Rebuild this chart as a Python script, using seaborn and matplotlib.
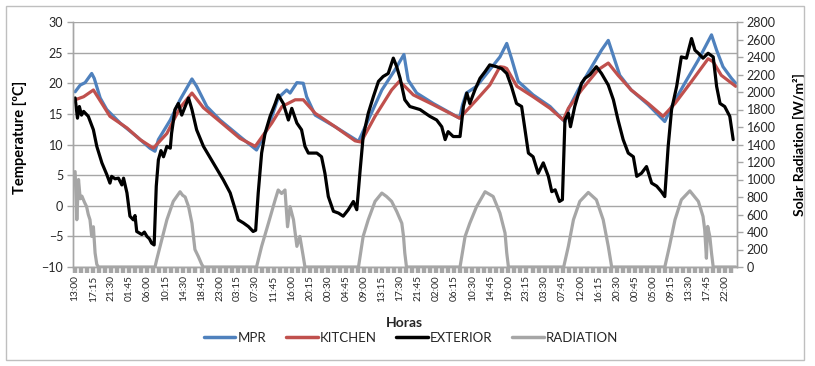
import numpy as np
import pandas as pd
import matplotlib
matplotlib.use('Agg')
import matplotlib.pyplot as plt
import seaborn as sns
from matplotlib.lines import Line2D
from matplotlib.patches import Rectangle
from matplotlib.ticker import MultipleLocator

# x tick labels (one every 4h15m, starting 13:00)
hour_labels = ['13:00', '17:15', '21:30', '01:45', '06:00', '10:15', '14:30', '18:45',
               '23:00', '03:15', '07:30', '11:45', '16:00', '20:15', '00:30', '04:45',
               '09:00', '13:15', '17:30', '21:45', '02:00', '06:15', '10:30', '14:45',
               '19:00', '23:15', '03:30', '07:45', '12:00', '16:15', '20:30', '00:45',
               '05:00', '09:15', '13:30', '17:45', '22:00']

# hours since the first sample (13:00) and values
mpr_h = [0, 1.2, 2.35, 3.9, 4.5, 5.9, 7.45, 10.6, 14.5, 17.6, 18.8, 19.6, 22.4, 24.7, 27.5,
         28.6, 31.0, 34.1, 38.8, 42.7, 45.5, 47.8, 49.8, 50.6, 52.2, 53.7, 54.5, 56.5, 61.2,
         66.7, 69.0, 72.2, 75.3, 77.4, 78.4, 80.4, 84.3, 90.5, 91.2, 92.1, 94.5, 97.6, 100.0,
         101.6, 102.7, 104.3, 107.8, 111.8, 115.3, 116.2, 118.4, 121.6, 123.9, 125.5, 126.5,
         128.2, 130.9, 134.9, 138.8, 140.4, 143.5, 146.7, 149.8, 151.0, 152.5, 154.5, 155.5]
mpr_temp = [18.6, 19.7, 20.1, 21.6, 20.8, 17.6, 15.7, 13.5, 11.3, 9.4, 8.9, 10.8, 14.0, 17.3, 20.7,
            19.5, 16.2, 14.0, 11.3, 9.1, 12.9, 17.6, 18.9, 18.4, 20.1, 20.0, 17.8, 14.8, 12.9,
            10.5, 14.0, 18.9, 22.2, 24.7, 20.5, 18.4, 16.7, 14.3, 16.5, 18.4, 19.5, 22.2, 24.3,
            26.5, 24.1, 20.3, 18.1, 16.2, 13.7, 15.9, 18.9, 22.7, 25.4, 27.0, 24.9,
            21.3, 18.9, 16.5, 13.75, 16.2, 20.0, 23.8, 27.9, 25.4, 22.7, 20.8, 20.0]

kitchen_h = [0, 2.0, 4.3, 6.3, 8.2, 12.2, 15.3, 18.4, 21.6, 24.7, 27.5, 30.2, 34.1, 38.8, 42.4,
             46.3, 48.7, 51.8, 53.7, 56.5, 61.2, 65.9, 67.3, 70.6, 74.5, 76.3, 77.6, 79.6, 84.3,
             90.5, 94.5, 97.6, 100.0, 101.0, 101.6, 104.0, 107.8, 111.8, 114.9, 116.1, 119.2,
             123.1, 125.5, 127.8, 130.9, 134.9, 138.4, 141.2, 145.1, 149.0, 150.2, 152.1, 155.5]
kitchen_temp = [17.3, 17.8, 18.9, 16.7, 14.6, 12.7, 10.8, 9.4, 11.8, 16.0, 18.4, 16.0, 13.75, 11.0, 9.7,
                13.5, 16.2, 17.3, 17.3, 15.1, 12.9, 10.6, 10.4, 14.6, 18.9, 20.3, 19.5, 18.1, 16.5,
                14.3, 17.3, 19.7, 22.7, 22.6, 22.4, 19.5, 17.8, 15.9, 14.0, 15.9, 18.9,
                22.2, 23.3, 21.3, 18.9, 16.7, 14.6, 16.7, 20.3, 24.0, 23.5, 21.3, 19.5]

exterior_h = [0, 0.55, 1.0, 1.5, 2.0, 3.1, 4.3, 5.1, 6.3, 7.45, 8.2, 8.6, 9.4, 10.2, 11.0, 11.4,
              12.2, 12.9, 13.3, 13.7, 14.1, 14.5, 15.7, 16.3, 16.9, 17.5, 18.0, 18.6, 19.1, 19.6,
              20.2, 20.8, 21.6, 22.4, 22.7, 23.5, 24.3, 25.1, 25.9, 26.7, 27.5, 28.6, 30.2, 32.5,
              34.9, 36.5, 37.6, 38.4, 39.6, 40.8, 41.9, 42.5, 43.1, 43.9, 44.7, 45.9, 47.1, 47.8,
              49.0, 50.2, 51.0, 52.2, 53.3, 54.1, 54.9, 56.9, 58.0, 58.8, 59.6, 60.8, 62.0, 63.1,
              64.3, 65.5, 66.3, 67.1, 67.8, 69.0, 70.2, 71.4, 72.5, 73.7, 74.9, 75.7, 76.5, 77.6,
              78.8, 81.2, 83.5, 85.1, 86.3, 87.1, 87.8, 89.0, 90.6, 91.4, 92.2, 92.9, 94.1, 95.3,
              96.5, 97.6, 99.2, 100.4, 101.6, 102.7, 103.9, 105.1, 105.9, 106.7, 107.8, 109.0,
              110.2, 111.4, 112.2, 113.0, 114.0, 114.7, 115.3, 116.1, 116.6, 117.6, 119.2, 120.0,
              121.2, 122.7, 123.9, 125.5, 126.7, 127.8, 129.0, 130.2, 131.4, 132.2, 133.3, 134.5,
              135.7, 136.9, 138.0, 138.8, 139.6, 140.4, 141.6, 142.7, 143.9, 145.1, 145.9, 146.7,
              147.8, 149.0, 150.2, 151.0, 151.8, 152.9, 154.1, 154.9]
exterior_temp = [17.6, 14.3, 16.2, 14.8, 15.4, 14.6, 12.4, 9.7, 7.0, 5.1, 3.7, 4.8, 4.4, 4.5, 3.4, 4.5,
                 2.1, -1.7, -2.0, -2.3, -1.6, -4.2, -4.7, -4.3, -5.0, -5.4, -6.1, -6.4, 3.2, 7.5,
                 9.0, 8.0, 9.7, 9.4, 11.8, 15.7, 16.7, 14.8, 16.2, 17.6, 15.7, 12.4, 9.7, 7.0,
                 4.2, 2.1, -0.4, -2.3, -2.8, -3.4, -4.2, -4.0, 2.1, 8.6, 11.8, 14.6, 16.7, 18.1,
                 16.7, 14.0, 15.9, 13.5, 12.4, 9.7, 8.6, 8.6, 8.0, 5.3, 1.5, -0.9, -1.2, -1.7,
                 -0.65, 0.7, -0.65, 5.9, 11.3, 15.1, 17.8, 20.3, 21.1, 21.6, 24.1, 22.7, 20.8, 17.3,
                 16.2, 15.7, 14.6, 14.0, 12.9, 10.8, 12.1, 11.3, 11.3, 16.2, 18.4, 16.7, 18.9, 20.8,
                 21.9, 23.0, 22.7, 22.4, 21.6, 19.5, 16.7, 16.2, 12.4, 8.6, 8.0, 5.3,
                 7.0, 4.8, 2.3, 2.6, 0.7, 1.0, 14.0, 15.1, 12.9, 16.2, 20.0, 20.8,
                 21.4, 22.7, 21.6, 19.7, 17.3, 14.0, 10.8, 8.6, 8.0, 4.8, 5.3, 6.4,
                 3.7, 3.2, 2.3, 1.5, 9.7, 15.7, 19.5, 24.3, 24.1, 27.3, 25.4, 24.9,
                 24.1, 24.9, 24.3, 19.5, 16.7, 16.2, 14.6, 10.8]

radiation_h = [0, 0.4, 0.8, 1.2, 1.6, 2.2, 2.7, 3.1, 3.5, 3.9, 4.3, 4.7, 5.1, 5.5,
               18.8, 19.2, 20.4, 21.6, 23.1, 24.7, 25.3, 25.9, 26.7, 27.5, 28.2, 29.0, 29.8, 30.2,
               42.7, 43.9, 45.5, 47.1, 47.8, 48.6, 49.4, 50.0, 50.6, 51.4, 52.2, 52.9, 53.7, 54.1,
               66.7, 67.8, 69.0, 70.6, 72.2, 73.3, 74.5, 75.7, 76.9, 77.3, 77.6, 78.0,
               90.6, 91.8, 92.9, 94.5, 96.5, 98.4, 100.0, 101.2, 101.6, 102.0,
               115.0, 116.1, 117.3, 118.8, 120.8, 122.7, 124.3, 125.5, 126.3,
               138.8, 139.9, 141.2, 142.7, 144.7, 146.7, 147.8, 148.2, 148.6, 148.9, 149.4, 149.8,
               150.2, 155.5]
radiation_wm2 = [1090, 540, 1000, 780, 810, 740, 690, 600, 540, 350, 460, 160, 30, 0,
                 0, 84, 312, 540, 750, 860, 820, 800, 690, 500, 200, 120, 30, 0,
                 0, 236, 500, 770, 880, 840, 880, 460, 690, 540, 236, 350, 120, 0,
                 0, 350, 540, 750, 845, 806, 750, 635, 500, 350, 160, 0,
                 0, 350, 500, 690, 860, 806, 616, 388, 160, 0,
                 0, 236, 540, 750, 852, 768, 540, 236, 0,
                 0, 236, 540, 768, 870, 750, 578, 426, 100, 464, 350, 160,
                 0, 0]

temp_df = pd.concat([
    pd.DataFrame({'hours': mpr_h, 'temp': mpr_temp, 'series': 'MPR'}),
    pd.DataFrame({'hours': kitchen_h, 'temp': kitchen_temp, 'series': 'KITCHEN'}),
    pd.DataFrame({'hours': exterior_h, 'temp': exterior_temp, 'series': 'EXTERIOR'}),
], ignore_index=True)
rad_df = pd.DataFrame({'hours': radiation_h, 'rad': radiation_wm2})

colors = {'MPR': '#4f81bd', 'KITCHEN': '#c0504d', 'EXTERIOR': '#000000'}
rad_color = '#a6a6a6'
grid_col = '#a6a6a6'
txt_col = '#262626'

sns.set_style('white')
plt.rcParams['font.family'] = ['Lato', 'DejaVu Sans']

fig = plt.figure(figsize=(8.15, 3.66), dpi=100)
ax = fig.add_axes([73 / 815, 1 - 267 / 366, 664 / 815, 245 / 366])

sns.lineplot(data=temp_df, x='hours', y='temp', hue='series', hue_order=['MPR', 'KITCHEN', 'EXTERIOR'],
             palette=colors, estimator=None, sort=False, lw=2.3, legend=False, ax=ax)

ax2 = ax.twinx()
sns.lineplot(data=rad_df, x='hours', y='rad', color=rad_color, estimator=None, sort=False,
             lw=2.3, legend=False, ax=ax2)

ax.set_xlim(-0.5, 155.8)
ax.set_ylim(-10, 30)
ax.set_yticks(np.arange(-10, 31, 5))
ax2.set_ylim(0, 2800)
ax2.set_yticks(np.arange(0, 2801, 200))

ax.set_xticks(np.arange(len(hour_labels)) * 4.25)
ax.set_xticklabels(hour_labels, rotation=90, fontsize=7.3, color=txt_col)
ax.xaxis.set_minor_locator(MultipleLocator(4.25 / 3))

ax.yaxis.grid(True, color=grid_col, lw=1.0)
ax.set_axisbelow(True)

for a in (ax, ax2):
    for s in a.spines.values():
        s.set_color(grid_col)
        s.set_linewidth(1.0)
    a.spines['top'].set_visible(False)

ax.tick_params(axis='y', left=True, length=4, width=1, color=grid_col, labelsize=9,
               labelcolor=txt_col, pad=3)
ax2.tick_params(axis='y', right=True, length=4, width=1, color=grid_col, labelsize=9,
                labelcolor=txt_col, pad=3)
ax.tick_params(axis='x', which='both', bottom=True, direction='out', length=4, width=3.2,
               color=grid_col, pad=2)

ax.set_xlabel('')
ax.set_ylabel('Temperature [ºC]', fontsize=10.5, fontweight='bold', color='black')
ax.yaxis.set_label_coords(-0.069, 0.53)
ax2.set_ylabel('Solar Radiation [W/m²]', fontsize=10, fontweight='bold', color='black')
ax2.yaxis.set_label_coords(1.084, 0.5)

fig.text(404 / 815, 1 - 323 / 366, 'Horas', ha='center', va='center', fontsize=10, fontweight='bold')

handles = [Line2D([], [], color=colors['MPR'], lw=2.5),
           Line2D([], [], color=colors['KITCHEN'], lw=2.5),
           Line2D([], [], color=colors['EXTERIOR'], lw=2.5),
           Line2D([], [], color=rad_color, lw=2.5)]
fig.legend(handles, ['MPR', 'KITCHEN', 'EXTERIOR', 'RADIATION'], loc='center',
           bbox_to_anchor=(411 / 815, 1 - 338 / 366), ncol=4, frameon=False, fontsize=9.5,
           handlelength=2.4, handletextpad=0.15, columnspacing=1.5)

fig.add_artist(Rectangle((6 / 815, 6 / 366), 798 / 815, 354 / 366, transform=fig.transFigure,
                         fill=False, ec='#bfbfbf', lw=1))

fig.savefig('out.png', dpi=100)
